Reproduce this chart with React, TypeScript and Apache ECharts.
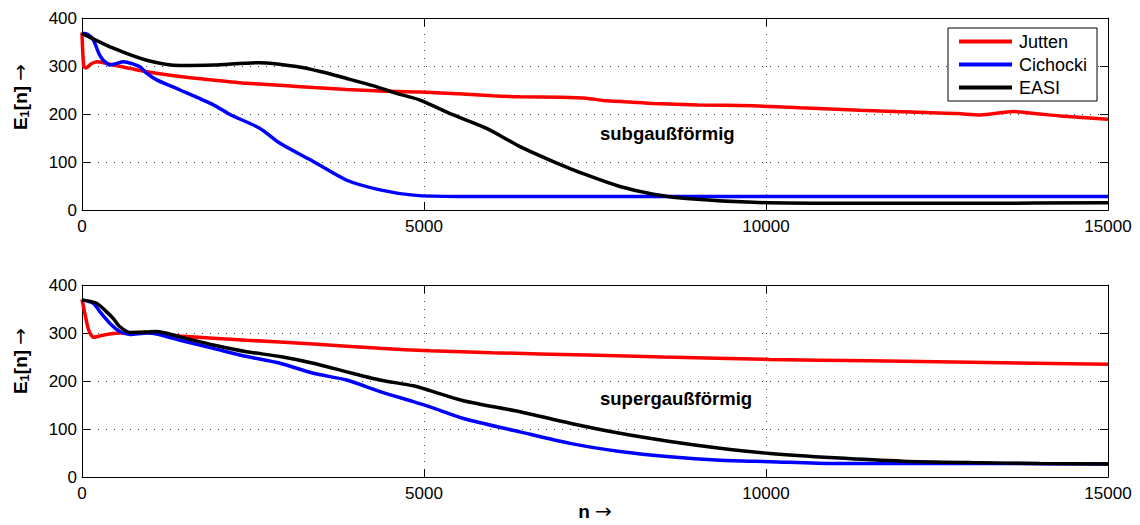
import React, { useEffect, useRef } from "react";
import * as echarts from "echarts";

const xTicks = [0, 5000, 10000, 15000];
const yTicks = [0, 100, 200, 300, 400];
const seriesNames = ["Jutten", "Cichocki", "EASI"];
const seriesColors = ["#ff0000", "#0000ff", "#000000"];

const topJutten = [
  [0, 370], [25, 300], [60, 296], [130, 304], [220, 309], [350, 306], [460, 302], [700, 295],
  [945, 288], [1433, 278], [1900, 271], [2407, 264], [2900, 260], [3382, 255], [3870, 251],
  [4357, 248], [4942, 246], [5500, 242], [6000, 238], [6404, 236], [7000, 235], [7378, 233],
  [7622, 228], [8000, 225], [8353, 222], [9000, 219], [9810, 217], [10500, 213], [11374, 208],
  [12350, 203], [12800, 201], [13128, 198], [13616, 205], [14000, 200], [14300, 196], [15000, 189],
];
const topCichocki = [
  [0, 368], [80, 366], [166, 354], [250, 325], [312, 312], [409, 302], [500, 305], [604, 309],
  [750, 304], [850, 298], [945, 285], [1092, 271], [1433, 250], [1920, 219], [2164, 199],
  [2602, 170], [2895, 139], [3382, 101], [3870, 62], [4357, 42], [4844, 31], [5500, 28],
  [6000, 28], [8000, 28], [10000, 28], [12000, 28], [15000, 28],
];
const topEASI = [
  [0, 368], [458, 337], [945, 312], [1433, 301], [1920, 302], [2600, 307], [3138, 299],
  [3500, 288], [3870, 274], [4250, 259], [4600, 243], [4942, 229], [5429, 198], [5916, 170],
  [6404, 132], [6890, 101], [7378, 73], [7865, 49], [8353, 33], [8840, 24], [9810, 16],
  [11000, 14], [13000, 14], [15000, 15],
];
const bottomJutten = [
  [0, 370], [50, 335], [98, 306], [170, 291], [263, 294], [458, 299], [945, 301], [1433, 294],
  [2407, 285], [3382, 277], [4357, 268], [5088, 263], [6000, 259], [7378, 254], [8500, 250],
  [10058, 245], [11500, 242], [13000, 239], [15000, 235],
];
const bottomCichocki = [
  [0, 369], [166, 362], [263, 344], [409, 320], [555, 303], [702, 297], [945, 300], [1092, 298],
  [1433, 285], [1920, 268], [2407, 251], [2895, 237], [3382, 216], [3870, 202], [4357, 178],
  [4844, 157], [5088, 146], [5575, 122], [6404, 94], [7135, 70], [7865, 53], [8596, 42],
  [9327, 35], [10058, 32], [11000, 28], [12000, 28], [13500, 28], [15000, 27],
];
const bottomEASI = [
  [0, 369], [214, 362], [361, 344], [458, 330], [555, 313], [702, 301], [945, 302], [1092, 303],
  [1433, 292], [1920, 275], [2407, 261], [2895, 251], [3382, 237], [3870, 219], [4357, 202],
  [4844, 190], [5088, 180], [5575, 159], [6404, 136], [7135, 112], [7865, 91], [8596, 74],
  [9327, 60], [10058, 49], [11000, 40], [12000, 33], [13000, 30], [14000, 28], [15000, 27],
];

const annotations = ["subgaußförmig", "supergaußförmig"];

const FONT = "'Liberation Sans', Arial, 'DejaVu Sans', sans-serif";
const ARROW_FONT = "'DejaVu Sans', sans-serif";

export default function App() {
  const ref = useRef<HTMLDivElement>(null);
  useEffect(() => {
    document.body.style.margin = "0";
    if (!ref.current) return;
    const chart = echarts.init(ref.current, null, { renderer: "svg" });
    const gridLine = { show: true, lineStyle: { color: "#444", width: 1, type: [1, 7] as any } };
    const axisLine = { show: true, onZero: false, lineStyle: { color: "#000", width: 1 } };
    const axisTick = { show: true, inside: true, length: 8, lineStyle: { color: "#000" } };
    const mkX = (gi: number) => [
      {
        type: "value", gridIndex: gi, min: xTicks[0], max: xTicks[xTicks.length - 1],
        interval: xTicks[1] - xTicks[0], position: "bottom", axisLine, axisTick,
        axisLabel: { color: "#000", fontSize: 17, fontFamily: FONT, margin: 8, formatter: (v: number) => String(v) },
        splitLine: gridLine,
      },
      {
        type: "value", gridIndex: gi, min: xTicks[0], max: xTicks[xTicks.length - 1],
        interval: xTicks[1] - xTicks[0], position: "top", axisLine, axisTick,
        axisLabel: { show: false }, splitLine: { show: false },
      },
    ];
    const mkY = (gi: number) => [
      {
        type: "value", gridIndex: gi, min: yTicks[0], max: yTicks[yTicks.length - 1],
        interval: yTicks[1] - yTicks[0], position: "left", axisLine, axisTick,
        axisLabel: { color: "#000", fontSize: 17, fontFamily: FONT, margin: 5, formatter: (v: number) => String(v) },
        splitLine: gridLine,
      },
      {
        type: "value", gridIndex: gi, min: yTicks[0], max: yTicks[yTicks.length - 1],
        interval: yTicks[1] - yTicks[0], position: "right", axisLine, axisTick,
        axisLabel: { show: false }, splitLine: { show: false },
      },
    ];
    const datasets = [
      [topJutten, topCichocki, topEASI],
      [bottomJutten, bottomCichocki, bottomEASI],
    ];
    const series: any[] = [];
    datasets.forEach((group, gi) => {
      group.forEach((data, si) => {
        series.push({
          type: "line", name: seriesNames[si], data,
          xAxisIndex: gi * 2, yAxisIndex: gi * 2,
          symbol: "none", smooth: 0.25,
          lineStyle: { color: seriesColors[si], width: 3.5 },
          itemStyle: { color: seriesColors[si] },
          z: 3 + si,
        });
      });
    });
    const yName = (y: number) => ({
      type: "text", x: 20, y, rotation: Math.PI / 2,
      style: {
        text: "{b|E}{s|1}{b|[n] }{a|→}",
        align: "center", verticalAlign: "middle", fill: "#000",
        rich: {
          b: { fontSize: 19, fontWeight: "bold", fontFamily: FONT, lineHeight: 22, fill: "#000" },
          s: { fontSize: 13, fontWeight: "bold", fontFamily: FONT, lineHeight: 4, verticalAlign: "bottom", fill: "#000" },
          a: { fontSize: 20, fontFamily: ARROW_FONT, lineHeight: 22, fill: "#000" },
        },
      },
    });
    chart.setOption({
      animation: false,
      grid: [
        { left: 82, right: 32, top: 18, height: 192, containLabel: false },
        { left: 82, right: 32, top: 285, height: 192, containLabel: false },
      ],
      xAxis: [...mkX(0), ...mkX(1)],
      yAxis: [...mkY(0), ...mkY(1)],
      legend: {
        data: seriesNames, orient: "vertical", left: 948, top: 28,
        backgroundColor: "#fff", borderColor: "#000", borderWidth: 1,
        padding: [4, 10, 4, 11], itemWidth: 53, itemHeight: 4, itemGap: 4, icon: "rect",
        textStyle: { color: "#000", fontSize: 18, fontFamily: FONT, lineHeight: 19, padding: [0, 0, 0, 2] },
      },
      series,
      graphic: [
        yName(97),
        yName(361),
        {
          type: "text", x: 595, y: 511,
          style: {
            text: "{b|n }{a|→}", align: "center", verticalAlign: "middle", fill: "#000",
            rich: {
              b: { fontSize: 19, fontWeight: "bold", fontFamily: FONT, lineHeight: 20, fill: "#000" },
              a: { fontSize: 20, fontFamily: ARROW_FONT, lineHeight: 20, fill: "#000" },
            },
          },
        },
        {
          type: "text", x: 600, y: 133,
          style: { text: annotations[0], align: "left", verticalAlign: "middle", fill: "#000", fontSize: 18.5, fontWeight: "bold", fontFamily: FONT },
        },
        {
          type: "text", x: 600, y: 398,
          style: { text: annotations[1], align: "left", verticalAlign: "middle", fill: "#000", fontSize: 18.5, fontWeight: "bold", fontFamily: FONT },
        },
      ],
    });
    return () => chart.dispose();
  }, []);
  return <div ref={ref} style={{ width: 1140, height: 525 }} />;
}
